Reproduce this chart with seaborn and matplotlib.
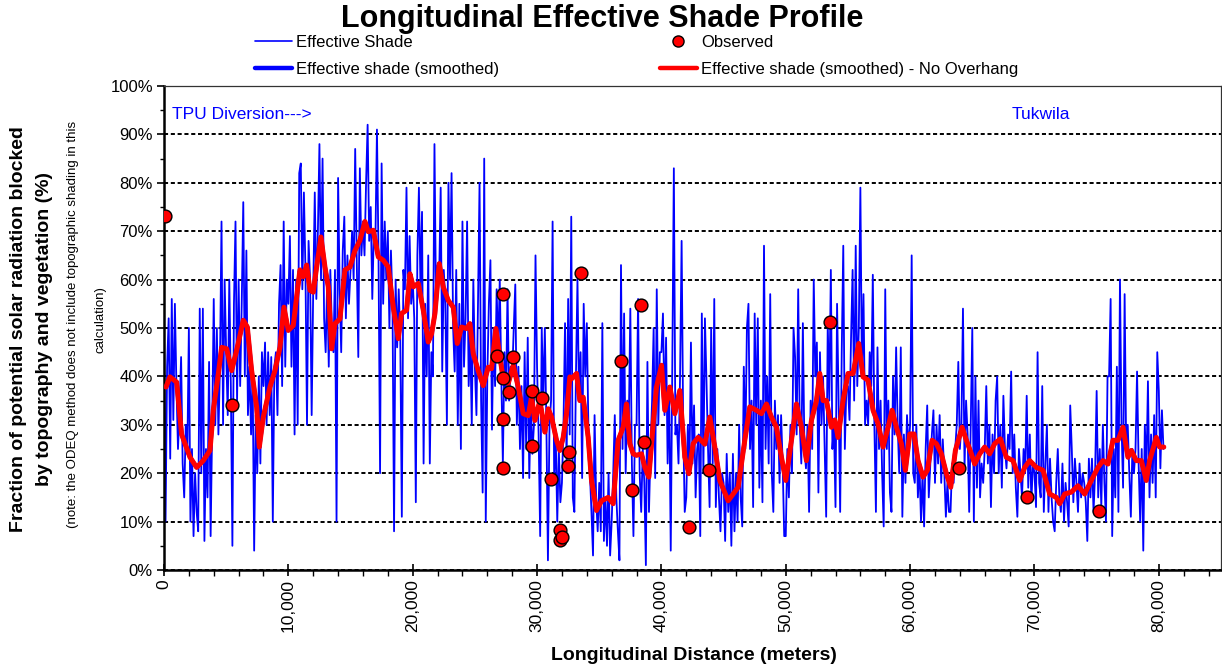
import numpy as np
import pandas as pd
import matplotlib
matplotlib.use("Agg")
import matplotlib.pyplot as plt
import seaborn as sns
from matplotlib.ticker import FuncFormatter, MultipleLocator
from matplotlib.lines import Line2D

# ---------------- data ----------------
shade_step_m = 125  # spacing of the raw effective-shade samples (m)
shade_rows = [
    [50, 10, 42, 52, 23, 56, 31, 55], [38, 25, 33, 44, 22, 15, 30, 24],
    [50, 10, 25, 7, 20, 12, 8, 54], [20, 54, 6, 25, 15, 43, 7, 30],
    [56, 30, 50, 28, 42, 72, 30, 60], [45, 32, 60, 38, 5, 55, 72, 35],
    [60, 38, 55, 76, 40, 66, 32, 42], [28, 41, 4, 32, 20, 40, 22, 45],
    [38, 47, 30, 45, 32, 44, 10, 42], [45, 32, 55, 63, 38, 72, 42, 60],
    [55, 69, 42, 62, 28, 60, 30, 82], [84, 58, 78, 62, 30, 68, 60, 32],
    [58, 78, 56, 70, 88, 60, 85, 52], [45, 60, 42, 62, 50, 45, 62, 10],
    [81, 58, 45, 66, 73, 52, 65, 55], [62, 70, 60, 87, 64, 44, 83, 65],
    [72, 65, 80, 92, 68, 75, 56, 70], [68, 91, 65, 20, 84, 55, 72, 60],
    [70, 50, 66, 55, 8, 60, 46, 58], [48, 11, 62, 58, 79, 52, 69, 55],
    [60, 52, 14, 65, 79, 58, 74, 22], [55, 40, 65, 22, 45, 40, 88, 55],
    [63, 60, 79, 41, 62, 55, 30, 80], [60, 82, 50, 41, 62, 30, 55, 25],
    [72, 42, 52, 72, 38, 48, 30, 60], [42, 32, 55, 80, 35, 16, 85, 10],
    [40, 55, 64, 29, 50, 38, 58, 45], [60, 40, 22, 45, 35, 58, 35, 42],
    [40, 50, 59, 30, 42, 25, 38, 19], [45, 25, 48, 19, 35, 24, 30, 65],
    [42, 28, 7, 50, 35, 50, 30, 2], [30, 35, 72, 19, 28, 10, 25, 14],
    [18, 30, 51, 22, 56, 28, 73, 15], [12, 40, 60, 35, 45, 19, 55, 40],
    [51, 30, 20, 12, 3, 32, 15, 8], [18, 8, 51, 6, 15, 5, 20, 3],
    [10, 20, 32, 15, 8, 2, 63, 25], [53, 20, 35, 30, 54, 22, 7, 30],
    [30, 56, 20, 12, 25, 18, 1, 43], [12, 25, 35, 50, 19, 58, 30, 45],
    [45, 53, 32, 48, 22, 38, 4, 42], [83, 28, 30, 22, 40, 68, 30, 12],
    [15, 30, 20, 47, 22, 34, 15, 25], [28, 7, 53, 20, 52, 39, 25, 13],
    [50, 22, 56, 13, 25, 15, 8, 20], [18, 6, 24, 12, 20, 5, 24, 8],
    [20, 10, 30, 15, 9, 42, 25, 50], [55, 25, 35, 13, 53, 30, 52, 17],
    [35, 14, 67, 25, 40, 22, 57, 20], [12, 35, 25, 32, 18, 32, 22, 7],
    [7, 25, 15, 30, 20, 50, 44, 28], [58, 30, 22, 51, 25, 21, 30, 12],
    [35, 25, 60, 40, 47, 16, 45, 30], [40, 25, 11, 51, 35, 62, 25, 30],
    [13, 55, 35, 12, 45, 67, 25, 38], [38, 31, 48, 62, 35, 67, 38, 50],
    [79, 40, 57, 30, 35, 30, 45, 38], [61, 30, 12, 46, 25, 35, 20, 9],
    [58, 25, 35, 16, 12, 40, 28, 46], [30, 20, 46, 11, 28, 18, 32, 25],
    [30, 65, 20, 18, 30, 15, 22, 10], [20, 9, 25, 34, 15, 22, 28, 33],
    [18, 30, 22, 32, 18, 27, 20, 11], [18, 12, 12, 22, 18, 25, 30, 43],
    [25, 30, 54, 21, 35, 28, 12, 30], [50, 10, 40, 17, 35, 15, 22, 18],
    [25, 38, 22, 30, 13, 28, 20, 35], [40, 20, 30, 17, 36, 25, 21, 28],
    [25, 41, 20, 28, 17, 11, 25, 20], [15, 25, 20, 36, 17, 28, 14, 22],
    [20, 13, 45, 18, 15, 38, 12, 22], [30, 12, 23, 15, 10, 8, 18, 25],
    [15, 12, 22, 10, 18, 14, 9, 34], [25, 14, 23, 18, 12, 22, 15, 20],
    [18, 14, 6, 23, 15, 23, 12, 20], [37, 15, 25, 13, 30, 18, 10, 40],
    [40, 56, 7, 25, 15, 42, 12, 60], [30, 17, 57, 25, 30, 20, 11, 25],
    [20, 25, 41, 22, 10, 25, 4, 30], [20, 39, 15, 28, 18, 32, 15, 45],
    [37, 21, 33, 25],
]

smooth_dist = [160, 482, 1018, 1420, 2090, 2625, 3160, 3698, 3965, 4367,
               4635, 5040, 5440, 5842, 6377, 6700, 7047, 7449, 7663, 7985,
               8520, 8923, 9325, 9646, 9995, 10396, 10600, 10933, 11201, 11469,
               11737, 12005, 12273, 12621, 12943, 13211, 13479, 13747, 14149, 14551,
               14953, 15355, 15757, 16159, 16427, 16829, 17231, 17633, 18035, 18437,
               18839, 19107, 19509, 19777, 20045, 20447, 20849, 21251, 21519, 21787,
               22133, 22455, 22857, 23259, 23581, 23929, 24331, 24599, 24867, 25269,
               25671, 26073, 26341, 26689, 27011, 27279, 27681, 28083, 28485, 28887,
               29289, 29557, 29825, 30227, 30629, 30897, 31165, 31567, 31835, 32103,
               32371, 32639, 32771, 33173, 33441, 33709, 34111, 34379, 34781, 35183,
               35719, 36121, 36523, 36925, 37193, 37461, 37729, 37997, 38399, 38667,
               38989, 39337, 39605, 40007, 40275, 40677, 41079, 41481, 41883, 42205,
               42553, 42955, 43489, 43891, 44293, 44695, 45365, 45767, 46169, 46705,
               47107, 47643, 48045, 48447, 48849, 49251, 49653, 50001, 50457, 50859,
               51261, 51663, 52065, 52467, 52735, 53003, 53271, 53673, 53941, 54207,
               54609, 55011, 55413, 55869, 56217, 56619, 57021, 57423, 57825, 58227,
               58549, 58897, 59299, 59621, 59969, 60317, 60639, 61041, 61389, 61765,
               62113, 62515, 62917, 63265, 63641, 64177, 64525, 64927, 65193, 65595,
               65997, 66399, 66801, 67257, 67739, 68275, 68811, 69213, 69615, 70151,
               70687, 71223, 71759, 72027, 72429, 72965, 73501, 74037, 74573, 75109,
               75511, 75911, 76313, 76715, 77117, 77519, 77787, 78189, 78591, 78993,
               79261, 79797, 80065, 80400]
smooth_val = [37.8, 39.9, 38.8, 28.0, 23.3, 21.2, 22.6, 24.7, 33.0, 40.5,
              46.0, 45.7, 41.2, 45.4, 51.6, 50.2, 41.2, 33.7, 25.4, 31.6,
              37.8, 41.2, 46.0, 54.3, 49.5, 50.5, 55.0, 62.0, 60.6, 63.0,
              57.8, 57.4, 62.6, 68.8, 62.6, 58.5, 45.7, 50.9, 51.9, 62.0,
              62.6, 66.0, 68.1, 72.0, 69.9, 70.2, 64.7, 64.0, 62.6, 54.3,
              47.8, 53.0, 53.7, 61.2, 58.5, 59.2, 53.7, 47.1, 48.8, 53.0,
              63.3, 58.5, 55.7, 54.3, 46.8, 50.2, 49.9, 50.9, 44.7, 41.2,
              38.1, 41.9, 41.6, 49.9, 44.0, 39.5, 38.5, 42.3, 37.8, 32.3,
              31.9, 35.7, 30.9, 35.0, 28.5, 33.3, 31.6, 26.8, 24.7, 27.4,
              32.3, 39.9, 39.5, 40.6, 35.0, 35.7, 27.4, 18.5, 12.3, 14.3,
              15.0, 13.7, 26.8, 29.5, 34.3, 26.1, 24.0, 23.7, 24.0, 21.2,
              19.2, 30.2, 37.8, 42.3, 33.0, 37.8, 32.3, 37.1, 23.3, 19.9,
              26.1, 27.4, 26.0, 31.6, 25.4, 18.5, 14.3, 15.7, 17.1, 26.8,
              33.7, 33.0, 32.3, 34.3, 31.6, 29.5, 23.3, 18.5, 26.8, 34.3,
              29.5, 22.6, 30.9, 35.0, 40.6, 35.0, 35.0, 29.5, 31.0, 27.4,
              35.0, 40.6, 40.6, 46.8, 39.9, 39.2, 33.0, 30.2, 25.4, 29.5,
              33.0, 29.5, 26.1, 20.6, 28.1, 28.1, 22.6, 19.2, 20.6, 26.8,
              26.1, 24.0, 19.9, 17.1, 24.7, 29.5, 26.8, 24.0, 21.9, 24.0,
              25.4, 24.0, 26.1, 27.1, 23.3, 22.6, 18.5, 21.2, 22.6, 21.2,
              20.6, 15.7, 15.0, 13.7, 15.7, 16.1, 17.4, 15.7, 18.5, 21.2,
              22.6, 21.9, 26.8, 26.8, 29.5, 23.3, 24.7, 22.6, 22.6, 18.5,
              22.6, 27.4, 25.4, 25.4]

obs_dist = [80, 5466, 26768, 27251, 27251, 27251, 27251, 27733, 28055, 29582,
            29582, 30386, 31109, 31833, 31833, 31994, 32556, 32476, 33521, 36736,
            37621, 38344, 38585, 42203, 43810, 53537, 63907, 69373, 75161]
obs_val = [73.1, 34.1, 44.2, 57.0, 39.7, 31.2, 21.1, 36.8, 44.0, 37.0,
           25.6, 35.5, 18.8, 8.3, 6.2, 6.8, 24.4, 21.5, 61.4, 43.2,
           16.5, 54.8, 26.4, 8.9, 20.7, 51.2, 21.1, 15.1, 12.2]

x_ticks = [0, 10000, 20000, 30000, 40000, 50000, 60000, 70000, 80000]
y_ticks = [0, 10, 20, 30, 40, 50, 60, 70, 80, 90, 100]

# ---------------- build tables ----------------
shade_val = np.concatenate([np.asarray(r, dtype=float) for r in shade_rows])
shade_df = pd.DataFrame({"dist": np.arange(len(shade_val)) * shade_step_m,
                         "shade": shade_val})
n_s = min(len(smooth_dist), len(smooth_val))
smooth_df = pd.DataFrame({"dist": smooth_dist[:n_s], "shade": smooth_val[:n_s]})
n_o = min(len(obs_dist), len(obs_val))
obs_df = pd.DataFrame({"dist": obs_dist[:n_o], "shade": obs_val[:n_o]})

# ---------------- style ----------------
sns.set_style("white")
plt.rcParams["font.family"] = ["Liberation Sans", "DejaVu Sans"]
plt.rcParams["text.color"] = "black"
plt.rcParams["axes.labelcolor"] = "black"
plt.rcParams["xtick.color"] = "black"
plt.rcParams["ytick.color"] = "black"

W, H = 1222, 668
fig = plt.figure(figsize=(W / 100, H / 100), dpi=100)
ax = fig.add_axes([164 / W, 98 / H, 1057 / W, 484 / H])

BLUE = "#0000FF"
RED = "#FF0000"

sns.lineplot(data=shade_df, x="dist", y="shade", ax=ax, color=BLUE, lw=1.3,
             estimator=None, sort=False, legend=False, zorder=2)
sns.lineplot(data=smooth_df, x="dist", y="shade", ax=ax, color=BLUE, lw=3.0,
             estimator=None, sort=False, legend=False, zorder=3)
sns.lineplot(data=smooth_df, x="dist", y="shade", ax=ax, color=RED, lw=3.6,
             estimator=None, sort=False, legend=False, zorder=4)
sns.scatterplot(data=obs_df, x="dist", y="shade", ax=ax, s=85, color=RED,
                edgecolor="black", linewidth=1.0, zorder=5, legend=False)

ax.set_xlim(0, 85000)
ax.set_ylim(0, 100)
ax.set_xticks(x_ticks)
ax.xaxis.set_minor_locator(MultipleLocator(2000))
ax.set_yticks(y_ticks)
ax.yaxis.set_minor_locator(MultipleLocator(5))
ax.xaxis.set_major_formatter(FuncFormatter(lambda v, p: f"{int(v):,}"))
ax.yaxis.set_major_formatter(FuncFormatter(lambda v, p: f"{int(v)}%"))
ax.set_xlabel("")
ax.set_ylabel("")

ax.set_axisbelow(True)
ax.yaxis.grid(True, color="black", linestyle=(0, (2.1, 1.4)), linewidth=1.4)
ax.xaxis.grid(False)

for s in ["left", "bottom"]:
    ax.spines[s].set_color("black")
    ax.spines[s].set_linewidth(1.8)
for s in ["top", "right"]:
    ax.spines[s].set_color("#333333")
    ax.spines[s].set_linewidth(0.9)

ax.tick_params(axis="y", which="major", direction="out", length=5, width=1.2,
               labelsize=12, pad=3, left=True, colors="black")
ax.tick_params(axis="y", which="minor", direction="out", length=3, width=1.0, left=True)
ax.tick_params(axis="x", which="major", direction="inout", length=9, width=1.2,
               labelsize=12.5, pad=2, bottom=True, colors="black")
ax.tick_params(axis="x", which="minor", direction="out", length=4, width=1.0, bottom=True)
for lab in ax.get_xticklabels():
    lab.set_rotation(90)
    lab.set_va("top")

# annotations inside plot
ax.text(643, 94.2, "TPU Diversion--->", color=BLUE, fontsize=12.5, ha="left", va="center")
ax.text(68167, 94.2, "Tukwila", color=BLUE, fontsize=12.5, ha="left", va="center")

# title and axis labels
fig.text(602 / W, 1 - 19 / H, "Longitudinal Effective Shade Profile",
         ha="center", va="center", fontsize=22, fontweight="bold", color="black")
fig.text(694 / W, 1 - 655 / H, "Longitudinal Distance (meters)",
         ha="center", va="center", fontsize=14, fontweight="bold", color="black")
fig.text(19 / W, 1 - 329 / H, "Fraction of potential solar radiation blocked",
         ha="center", va="center", rotation=90, fontsize=14, fontweight="bold", color="black")
fig.text(45 / W, 1 - 329 / H, "by topography and vegetation (%)",
         ha="center", va="center", rotation=90, fontsize=14, fontweight="bold", color="black")
fig.text(73 / W, 1 - 324 / H,
         "(note: the ODEQ method does not include topographic shading in this",
         ha="center", va="center", rotation=90, fontsize=9.5, color="black")
fig.text(100 / W, 1 - 320 / H, "calculation)",
         ha="center", va="center", rotation=90, fontsize=9.5, color="black")

# legends (two columns placed separately)
h_shade = Line2D([], [], color=BLUE, lw=1.2)
h_smooth = Line2D([], [], color=BLUE, lw=3.2)
h_obs = Line2D([], [], color=RED, marker="o", markersize=8, markeredgecolor="black",
               markeredgewidth=1.0, lw=0)
h_red = Line2D([], [], color=RED, lw=3.2)
common = dict(frameon=False, fontsize=12, handlelength=2.2, handletextpad=0.25,
              labelspacing=0.7, borderpad=0, borderaxespad=0, loc="upper left",
              labelcolor="black")
leg1 = fig.legend([h_shade, h_smooth], ["Effective Shade", "Effective shade (smoothed)"],
                  bbox_to_anchor=(255 / W, 1 - 35 / H), **common)
leg2 = fig.legend([h_obs, h_red], ["Observed", "Effective shade (smoothed) - No Overhang"],
                  bbox_to_anchor=(660 / W, 1 - 35 / H), **common)

fig.savefig("out.png", dpi=100)
